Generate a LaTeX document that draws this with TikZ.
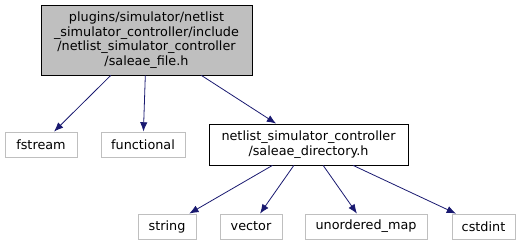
\documentclass[tikz,border=0pt]{standalone}
\usepackage{fontspec}
\setmainfont{DejaVu Sans}
\usetikzlibrary{arrows.meta}
\definecolor{edgeblue}{HTML}{191970}
\definecolor{boxgray}{HTML}{BFBFBF}
\begin{document}
\begin{tikzpicture}[x=0.75pt,y=-0.75pt,
  every node/.style={font=\fontsize{9.6pt}{11pt}\selectfont, inner sep=0pt, align=center},
  mainbox/.style={draw=black, fill=boxgray, line width=0.6pt},
  sysbox/.style={draw=boxgray, line width=0.6pt, minimum height=25*0.75pt},
  filebox/.style={draw=black, line width=0.6pt},
  dep/.style={draw=edgeblue, line width=0.6pt, -{Latex[length=7pt,width=5.5pt]}}]
\useasboundingbox (0,0) rectangle (531,245);
\node[mainbox, minimum width=211*0.75pt, minimum height=70*0.75pt] (top) at (146.5,40)
  {plugins/simulator/netlist\\\_simulator\_controller/include\\/netlist\_simulator\_controller\\/saleae\_file.h};
\node[sysbox, minimum width=72*0.75pt] (fstream) at (41,144.5) {fstream};
\node[sysbox, minimum width=84*0.75pt] (functional) at (143,144.5) {functional};
\node[filebox, minimum width=199*0.75pt, minimum height=41*0.75pt] (dir) at (308.5,144.5)
  {netlist\_simulator\_controller\\/saleae\_directory.h};
\node[sysbox, minimum width=58*0.75pt] (string) at (167,226.5) {string};
\node[sysbox, minimum width=62*0.75pt] (vector) at (251,226.5) {vector};
\node[sysbox, minimum width=122*0.75pt] (umap) at (366,226.5) {unordered\_map};
\node[sysbox, minimum width=63*0.75pt] (cstdint) at (483.5,226.5) {cstdint};
\draw[dep] (top) -- (fstream);
\draw[dep] (top) -- (functional);
\draw[dep] (top) -- (dir);
\draw[dep] (dir) -- (string);
\draw[dep] (dir) -- (vector);
\draw[dep] (dir) -- (umap);
\draw[dep] (dir) -- (cstdint);
\end{tikzpicture}
\end{document}
